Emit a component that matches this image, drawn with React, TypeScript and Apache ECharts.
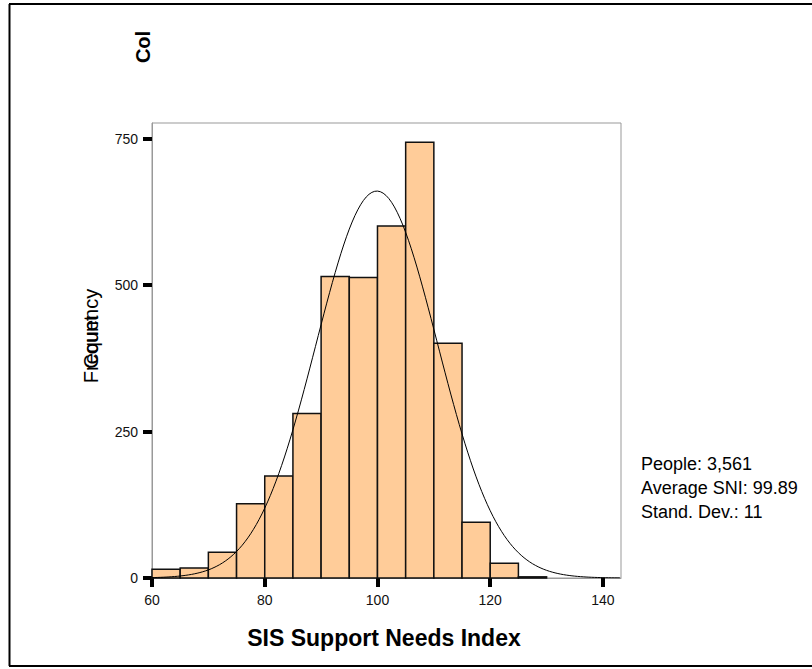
import React, { useEffect, useRef } from "react";
import * as echarts from "echarts";

// Histogram bins (lower edges) and counts
const binStarts = [60, 65, 70, 75, 80, 85, 90, 95, 100, 105, 110, 115, 120, 125];
const binCounts = [15, 17, 44, 127, 174, 281, 515, 513, 601, 744, 401, 95, 25, 2];
const binWidth = 5;

// Normal curve parameters (fitted overlay)
const people = 3561;
const curveMean = 99.89;
const curveSd = 10.75;

const xTicks = [60, 80, 100, 120, 140];
const yTicks = [0, 250, 500, 750];

const statsLines = ["People: 3,561", "Average SNI: 99.89", "Stand. Dev.: 11"];

const FONT = "'Liberation Sans', Arial, Helvetica, sans-serif";

export default function App() {
  const ref = useRef<HTMLDivElement>(null);
  useEffect(() => {
    if (!ref.current) return;
    const chart = echarts.init(ref.current, undefined, { renderer: "svg" });

    const barData = binStarts.map((s, i) => [s, s + binWidth, binCounts[i]]);
    const curve: number[][] = [];
    const k = (people * binWidth) / (curveSd * Math.sqrt(2 * Math.PI));
    for (let x = 60; x <= 143; x += 0.5) {
      const z = (x - curveMean) / curveSd;
      curve.push([x, k * Math.exp(-0.5 * z * z)]);
    }

    chart.setOption({
      animation: false,
      backgroundColor: "#fff",
      textStyle: { fontFamily: FONT },
      grid: {
        left: 152,
        top: 123,
        width: 469,
        height: 455,
        show: true,
        borderColor: "#999",
        borderWidth: 1,
      },
      xAxis: {
        type: "value",
        min: 60,
        max: 143.2,
        interval: 20,
        axisLine: { show: true, lineStyle: { color: "#999", width: 1 } },
        axisTick: {
          show: true,
          length: 9,
          customValues: xTicks,
          lineStyle: { color: "#000", width: 4 },
        },
        axisLabel: {
          margin: 15,
          color: "#111",
          fontSize: 14,
          fontFamily: FONT,
          customValues: xTicks,
        },
        splitLine: { show: false },
      },
      yAxis: {
        type: "value",
        min: 0,
        max: 777,
        interval: 250,
        axisLine: { show: true, lineStyle: { color: "#999", width: 1 } },
        axisTick: {
          show: true,
          length: 9,
          customValues: yTicks,
          lineStyle: { color: "#000", width: 4 },
        },
        axisLabel: {
          margin: 14,
          color: "#111",
          fontSize: 14,
          fontFamily: FONT,
          customValues: yTicks,
        },
        splitLine: { show: false },
      },
      series: [
        {
          type: "custom",
          data: barData,
          encode: { x: [0, 1], y: 2 },
          z: 2,
          renderItem: (params: any, api: any) => {
            const x0 = api.value(0);
            const x1 = api.value(1);
            const v = api.value(2);
            const p0 = api.coord([x0, v]);
            const p1 = api.coord([x1, 0]);
            return {
              type: "rect",
              shape: { x: p0[0], y: p0[1], width: p1[0] - p0[0], height: p1[1] - p0[1] },
              style: { fill: "#FFCC99", stroke: "#111", lineWidth: 1.5 },
            };
          },
        },
        {
          type: "line",
          data: curve,
          showSymbol: false,
          symbol: "none",
          z: 3,
          lineStyle: { color: "#000", width: 1 },
        },
      ],
      graphic: [
        { type: "line", shape: { x1: 9.5, y1: 4, x2: 9.5, y2: 666 }, style: { stroke: "#000", lineWidth: 2 } },
        { type: "line", shape: { x1: 9, y1: 4, x2: 812, y2: 4 }, style: { stroke: "#000", lineWidth: 2 } },
        { type: "line", shape: { x1: 9, y1: 666, x2: 812, y2: 666 }, style: { stroke: "#000", lineWidth: 2 } },
        {
          type: "text",
          x: 143,
          y: 47,
          rotation: Math.PI / 2,
          style: {
            text: "Col",
            font: `bold 20px ${FONT}`,
            fill: "#000",
            align: "center",
            verticalAlign: "middle",
          },
        },
        {
          type: "text",
          x: 91,
          y: 336,
          rotation: Math.PI / 2,
          style: {
            text: "Frequency",
            font: `20px ${FONT}`,
            fill: "#000",
            align: "center",
            verticalAlign: "middle",
          },
        },
        {
          type: "text",
          x: 91,
          y: 342,
          rotation: Math.PI / 2,
          style: {
            text: "Count",
            font: `20px ${FONT}`,
            fill: "#000",
            align: "center",
            verticalAlign: "middle",
          },
        },
        {
          type: "text",
          x: 384,
          y: 638,
          style: {
            text: "SIS Support Needs Index",
            font: `bold 23px ${FONT}`,
            fill: "#000",
            align: "center",
            verticalAlign: "middle",
          },
        },
        ...statsLines.map((t, i) => ({
          type: "text",
          x: 641,
          y: 464 + i * 24,
          style: {
            text: t,
            font: `18px ${FONT}`,
            fill: "#000",
            align: "left",
            verticalAlign: "middle",
          },
        })),
      ],
    });
    return () => chart.dispose();
  }, []);
  return (
    <div
      ref={ref}
      style={{ position: "absolute", left: 0, top: 0, width: 812, height: 669 }}
    />
  );
}
